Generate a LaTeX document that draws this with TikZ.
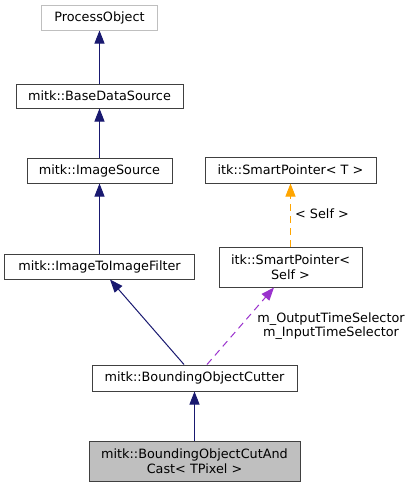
\documentclass[tikz,border=0pt]{standalone}
\usepackage{fontspec}
\setmainfont{DejaVu Sans}
\usetikzlibrary{arrows.meta}
\definecolor{edgeblue}{HTML}{191970}
\definecolor{boxline}{HTML}{404040}
\definecolor{greyline}{HTML}{BFBFBF}
\definecolor{greyfill}{HTML}{BFBFBF}
\definecolor{orchid}{HTML}{9A32CD}
\definecolor{orangeedge}{HTML}{FFA500}
\tikzset{
  cls/.style={draw=boxline, line width=1pt, inner sep=0pt, align=center,
    font=\fontsize{12.8}{15}\selectfont, text=black},
  inherit/.style={draw=edgeblue, line width=1pt,
    -{Triangle[length=13pt,width=10pt,fill=edgeblue]}},
  usage/.style={draw=orchid, line width=1pt, dash pattern=on 7pt off 5pt,
    -{Triangle[length=13pt,width=10pt,fill=orchid]}},
  tmpl/.style={draw=orangeedge, line width=1pt, dash pattern=on 7pt off 5pt,
    -{Triangle[length=13pt,width=10pt,fill=orangeedge]}},
  lbl/.style={inner sep=0pt, align=center, font=\fontsize{12.8}{14}\selectfont, text=black}
}
\begin{document}
\begin{tikzpicture}[x=1pt,y=-1pt]
\useasboundingbox (0,0) rectangle (412,488);
\node[cls, draw=greyline, minimum width=116pt, minimum height=25pt] (po) at (99.5,17.5) {ProcessObject};
\node[cls, minimum width=167pt, minimum height=24pt] (bds) at (99.5,96) {mitk::BaseDataSource};
\node[cls, minimum width=145pt, minimum height=25pt] (is) at (99.5,170.5) {mitk::ImageSource};
\node[cls, minimum width=190pt, minimum height=25pt] (itif) at (99.5,266.5) {mitk::ImageToImageFilter};
\node[cls, minimum width=171pt, minimum height=26pt] (spT) at (290.5,170) {itk::SmartPointer< T >};
\node[cls, minimum width=143pt, minimum height=40pt] (spS) at (290.5,267) {itk::SmartPointer<\\Self >};
\node[cls, minimum width=205pt, minimum height=26pt] (boc) at (194.5,378) {mitk::BoundingObjectCutter};
\node[cls, fill=greyfill, minimum width=211pt, minimum height=40pt] (cac) at (194.5,461) {mitk::BoundingObjectCutAnd\\Cast< TPixel >};

\draw[inherit] (bds.north) -- (po.south);
\draw[inherit] (is.north) -- (bds.south);
\draw[inherit] (itif.north) -- (is.south);
\draw[inherit] ([xshift=-10.5pt]boc.north) -- ([xshift=10.5pt]itif.south);
\draw[inherit] (cac.north) -- (boc.south);
\draw[usage] ([xshift=12.5pt]boc.north) -- ([xshift=-16.5pt]spS.south);
\draw[tmpl] (spS.north) -- (spT.south);

\node[lbl, anchor=west] (lself) at (295,214) {< Self >};
\node[lbl] (lsel) at (331,326) {m\_OutputTimeSelector\\m\_InputTimeSelector};
\end{tikzpicture}
\end{document}
